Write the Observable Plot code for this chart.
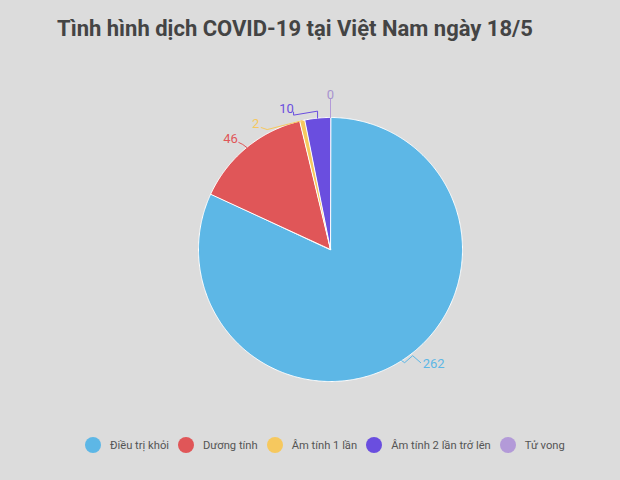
<!DOCTYPE html>
<html>
<head>
<meta charset="utf-8">
<script src="https://cdn.jsdelivr.net/npm/d3@7"></script>
<script src="https://cdn.jsdelivr.net/npm/@observablehq/plot@0.6"></script>
<style>
  html, body { margin: 0; padding: 0; }
  body { width: 620px; height: 480px; background: #dcdcdc; position: relative; overflow: hidden; font-family: Roboto, "Noto Sans", sans-serif; }
  #title { position: absolute; left: 57px; top: 16px; font-size: 22px; font-weight: 700; color: #444; white-space: nowrap; }
  #chart { position: absolute; left: 0; top: 70px; }
  #legend { position: absolute; left: 85px; top: 437px; display: flex; align-items: center; font-size: 11.2px; color: #555; white-space: nowrap; }
  .item { display: flex; align-items: center; margin-right: 9px; }
  .dot { width: 16px; height: 16px; border-radius: 50%; margin-right: 9px; }
</style>
</head>
<body>
<div id="title">Tình hình dịch COVID-19 tại Việt Nam ngày 18/5</div>
<div id="chart"></div>
<div id="legend"></div>
<script>
// ---- data ----
const categories = ["Điều trị khỏi", "Dương tính", "Âm tính 1 lần", "Âm tính 2 lần trở lên", "Tử vong"];
const values = [262, 46, 2, 10, 0];
const colors = ["#5db7e6", "#e05658", "#f6c85e", "#6a4edf", "#b39ad8"];
const labelColors = ["#5db7e6", "#e05658", "#f6c85e", "#6a4edf", "#a893cf"];

// ---- layout (pixels relative to the slice's edge point) ----
const R = 132;
const leaderPaths = [
  [[0,0],[3,2],[11,-5],[19,2]],
  [[0,0],[-4,-3],[-8,-5]],
  [[0,0],[-35,9],[-41,7]],
  [[0,0],[0,-7],[-24,-3],[-24,-6]],
  [[0,0],[0,-19]]
];
const labelOffsets = [[21,3,"start"],[-9,-9,"end"],[-43,3,"end"],[-31,-9,"middle"],[0,-23,"middle"]];

const total = d3.sum(values);
let cum = 0;
const slices = values.map((v, i) => {
  const a0 = cum / total * 2 * Math.PI;
  cum += v;
  const a1 = cum / total * 2 * Math.PI;
  return {i, cat: categories[i], value: v, a0, a1, mid: (a0 + a1) / 2};
});

const polys = [];
for (const s of slices) {
  if (s.value <= 0) continue;
  polys.push({cat: s.cat, x: 0, y: 0});
  const n = Math.max(2, Math.ceil((s.a1 - s.a0) / (Math.PI / 360)));
  for (let k = 0; k <= n; k++) {
    const t = s.a0 + (s.a1 - s.a0) * k / n;
    polys.push({cat: s.cat, x: R * Math.sin(t), y: -R * Math.cos(t)});
  }
}

const leaders = [];
const labels = [];
for (const s of slices) {
  const ex = R * Math.sin(s.mid), ey = -R * Math.cos(s.mid);
  for (const [dx, dy] of leaderPaths[s.i]) leaders.push({cat: s.cat, x: ex + dx, y: ey + dy});
  const [lx, ly, anchor] = labelOffsets[s.i];
  labels.push({cat: s.cat, value: s.value, x: ex + lx, y: ey + ly, anchor, color: labelColors[s.i]});
}

const chart = Plot.plot({
  width: 620,
  height: 350,
  margin: 0,
  style: {background: "transparent", overflow: "visible"},
  x: {domain: [-330, 290], range: [0, 620], axis: null},
  y: {domain: [-179, 171], range: [0, 350], axis: null},
  color: {domain: categories, range: colors},
  marks: [
    Plot.line(polys, {x: "x", y: "y", z: "cat", fill: "cat", stroke: "white", strokeWidth: 1, curve: "linear-closed"}),
    Plot.line(leaders, {x: "x", y: "y", z: "cat", stroke: "cat", strokeWidth: 1}),
    ...["start", "middle", "end"].map(a =>
      Plot.text(labels.filter(d => d.anchor === a), {x: "x", y: "y", text: d => String(d.value), fill: d => d.color, textAnchor: a, fontSize: 13, fontWeight: 400, fontFamily: "Roboto"})
    )
  ]
});
document.getElementById("chart").appendChild(chart);

const legend = document.getElementById("legend");
categories.forEach((c, i) => {
  const item = document.createElement("div");
  item.className = "item";
  const dot = document.createElement("span");
  dot.className = "dot";
  dot.style.background = colors[i];
  const txt = document.createElement("span");
  txt.textContent = c;
  item.appendChild(dot);
  item.appendChild(txt);
  legend.appendChild(item);
});
</script>
</body>
</html>
